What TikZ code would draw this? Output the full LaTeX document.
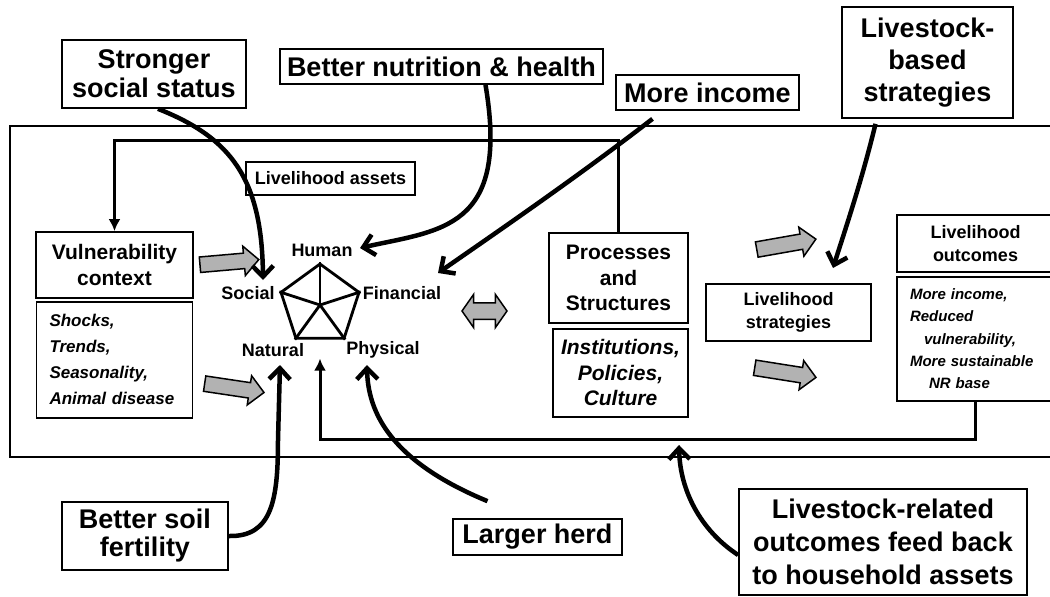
\documentclass[tikz,border=0pt]{standalone}
\usepackage{fontspec}
\setmainfont{Liberation Sans}
\usetikzlibrary{arrows.meta,shapes.arrows,shapes.geometric,positioning}
\tikzset{
    %Define standard arrow tip
    >={Straight Barb[length=11pt,width=21pt]},
    %Define style for boxes
    bigbox/.style={
           rectangle,
           draw=black, line width=1.7pt,
           inner sep=0pt,
           align=center,
           font=\bfseries\fontsize{27}{31}\selectfont},
    midbox/.style={
           rectangle,
           draw=black, line width=1.7pt,
           inner sep=0pt,
           align=center,
           font=\bfseries\fontsize{21}{25.5}\selectfont},
    smallbox/.style={
           rectangle,
           draw=black, line width=1.7pt,
           inner sep=0pt,
           align=center,
           font=\bfseries\fontsize{18}{22.5}\selectfont},
    listbox/.style={
           rectangle,
           draw=black, line width=1.7pt,
           inner sep=0pt,
           align=left,
           font=\bfseries\itshape\fontsize{17}{26}\selectfont},
    assetlabel/.style={
           inner sep=0pt,
           font=\bfseries\fontsize{18}{20}\selectfont},
    pentagon/.style={
           regular polygon, regular polygon sides=5,
           minimum size=82pt, inner sep=0pt,
           draw=black, line width=2.8pt},
    % Define arrow styles
    grayarrow/.style={
           single arrow, draw=black, line width=1.5pt, fill=black!30,
           inner xsep=0pt, inner ysep=7pt,
           single arrow head extend=7pt,
           single arrow tip angle=90},
    grayboth/.style={
           double arrow, draw=black, line width=1.5pt, fill=black!30,
           inner xsep=0pt, inner ysep=7.5pt,
           double arrow head extend=8.5pt,
           double arrow tip angle=110},
    influence/.style={->, line width=4.5pt},
    loopback/.style={-{Latex[length=12pt,width=12pt]}, line width=3pt},
    frame/.style={draw=black, line width=1.7pt}
}
\begin{document}
\begin{tikzpicture}[x=1pt,y=-1pt]
\useasboundingbox (0,0) rectangle (1050,597);
\draw[frame] (10,126) rectangle (1058,457);
\coordinate (toprail) at (0,140);
\coordinate (botrail) at (0,439);
 %outer boxes
\node[bigbox, minimum width=184pt, minimum height=68pt, font=\bfseries\fontsize{27}{29}\selectfont] (social) at (154,74) {Stronger\\social status};
\node[bigbox, minimum width=323pt, minimum height=35pt] (nutrition) at (441.5,66.5) {Better nutrition \& health};
\node[bigbox, minimum width=183pt, minimum height=35pt] (income) at (707.5,92.5) {More income};
\node[bigbox, minimum width=171pt, minimum height=111pt, font=\bfseries\fontsize{27}{32}\selectfont] (lsbased) at (927.5,62.5) {Livestock-\\based\\strategies};
\node[bigbox, minimum width=166pt, minimum height=68pt, font=\bfseries\fontsize{27}{28}\selectfont] (soil) at (145,536) {Better soil\\fertility};
\node[bigbox, minimum width=169pt, minimum height=36pt] (herd) at (537.5,537) {Larger herd};
\node[bigbox, minimum width=288pt, minimum height=106pt, font=\bfseries\fontsize{27}{33}\selectfont] (feedback) at (883,542) {Livestock-related\\outcomes feed back\\to household assets};
 %framework
\node[smallbox, minimum width=169pt, minimum height=33pt] (assets) at (330.5,178.5) {Livelihood assets};
\node[midbox, minimum width=157pt, minimum height=66pt] (vuln) at (114.5,265) {Vulnerability\\context};
\node[listbox, below=2pt of vuln, minimum width=156pt, minimum height=116pt, text width=130pt] (shocks) {Shocks,\\Trends,\\Seasonality,\\Animal disease};
\node[midbox, minimum width=139pt, minimum height=90pt] (proc) at (618.5,278) {Processes\\and\\Structures};
\node[midbox, below=4pt of proc.south east, anchor=north east, minimum width=135pt, minimum height=88pt, font=\bfseries\itshape\fontsize{21}{25.5}\selectfont] (inst) {Institutions,\\Policies,\\Culture};
\node[smallbox, minimum width=165pt, minimum height=57pt] (strat) at (788.5,312.5) {Livelihood\\strategies};
\node[smallbox, minimum width=157pt, minimum height=57pt, font=\bfseries\fontsize{18}{23}\selectfont] (outc) at (975.5,243.5) {Livelihood\\outcomes};
\node[listbox, below=3pt of outc, minimum width=157pt, minimum height=124pt, text width=131pt, font=\bfseries\itshape\fontsize{15}{22.4}\selectfont] (results) {More income,\\Reduced\\\hspace*{14pt}vulnerability,\\More sustainable\\\hspace*{19pt}NR base};
 %pentagon
\node[pentagon] (pent) at (320,305) {};
\foreach \k in {1,...,5}
    \draw[line width=2.8pt] (pent.center) -- (pent.corner \k);
\node[assetlabel] (human) at (322,250) {Human};
\node[assetlabel] (soclab) at (248,293) {Social};
\node[assetlabel] (finlab) at (402,293) {Financial};
\node[assetlabel] (natlab) at (273,350) {Natural};
\node[assetlabel] (phylab) at (383,350) {Physical};
 %gray arrows
\node[grayarrow, minimum height=59pt, rotate=5] (ga1) at (225.5,262.5) {};
\node[grayarrow, minimum height=60pt, rotate=-8.5] (ga2) at (230.5,387.5) {};
\node[grayarrow, minimum height=60pt, rotate=10] (ga3) at (782.5,245) {};
\node[grayarrow, minimum height=62pt, rotate=-9] (ga4) at (781.5,372) {};
\node[grayboth, minimum height=45pt] (ga5) at (484.5,311) {};
 %arrow tips
\coordinate (socialtip) at (263,280);
\coordinate (humantip) at (360,248);
\coordinate (fintip) at (438,273);
\coordinate (strattip) at (833,268);
\coordinate (naturaltip) at (280,365);
\coordinate (physicaltip) at (367,365);
\coordinate (feedtip) at (679,445);
 %loops
\draw[loopback] (proc.north) -- (proc.north |- toprail) -| (vuln.north);
\draw[loopback, shorten >=19pt] (results.south) -- (results.south |- botrail) -| (pent.south);
 %influences
\draw[influence] ([xshift=4pt]social.south) .. controls (232,138) and (262,180) .. (socialtip);
\draw[influence] ([xshift=44pt]nutrition.south) .. controls (510,230) and (440,230) .. (humantip);
\draw[influence] ([xshift=-55pt,yshift=-8pt]income.south) .. controls (580,175) and (500,230) .. (fintip);
\draw[influence] ([xshift=-52pt,yshift=-5pt]lsbased.south) .. controls (862,180) and (845,230) .. (strattip);
\draw[influence] (soil.east) .. controls (272,537) and (278,500) .. (278,440) -- (naturaltip);
\draw[influence] ([xshift=-50pt,yshift=17pt]herd.north) .. controls (400,465) and (368,420) .. (physicaltip);
\draw[influence] ([yshift=-13pt]feedback.west) .. controls (700,530) and (680,490) .. (feedtip);
\end{tikzpicture}
\end{document}
